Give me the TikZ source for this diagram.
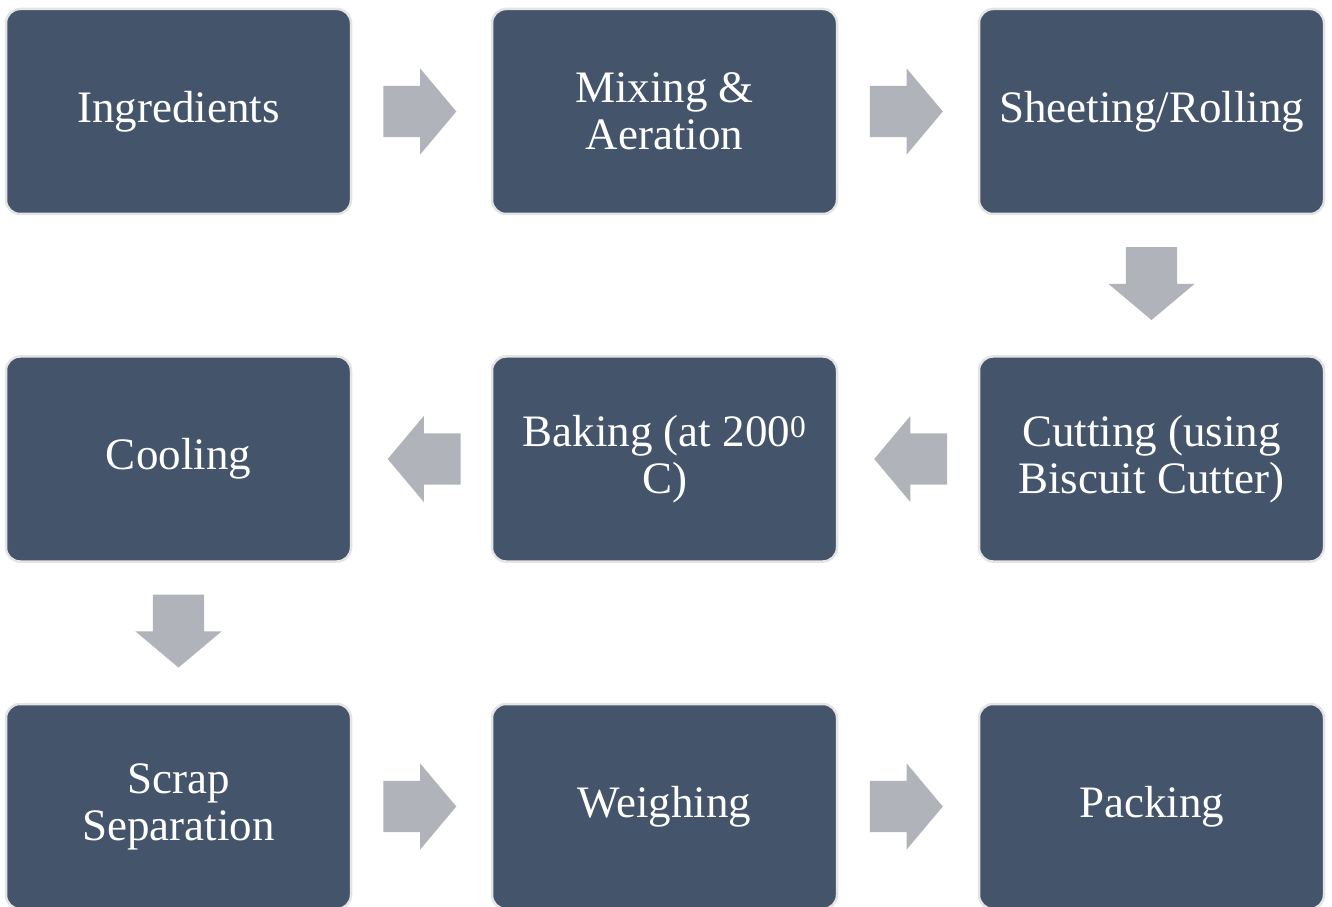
\documentclass[tikz,border=0pt]{standalone}
\usepackage{fontspec}
\setmainfont{Liberation Serif}
\usepackage{tikz}
\usetikzlibrary{
    shapes.arrows,
    calc,
    positioning
}
\definecolor{stepblue}{HTML}{44546A}
\definecolor{steprim}{HTML}{E4E4E4}
\definecolor{flowgray}{HTML}{B0B3BA}

\begin{document}
\begin{tikzpicture}[x=1pt, y=1pt,
    stepbox/.style={
        rectangle, rounded corners=14pt, fill=stepblue, draw=steprim,
        line width=2.5pt, minimum width=345pt, minimum height=205pt,
        inner sep=0pt, text=white, align=center,
        font=\fontsize{45}{47}\selectfont
    },
    flowarrow/.style={
        single arrow, fill=flowgray, draw=none,
        inner xsep=0pt, inner ysep=25.5pt,
        minimum height=73pt, minimum width=86pt,
        single arrow head extend=17.5pt, single arrow tip angle=100
    }
]
    \clip (0, 0) rectangle (1332, 906);
    % first row
    \node[stepbox] (ing) at (178.5, 794.5) {Ingredients};
    \node[stepbox] (mix) at (664.5, 794.5) {Mixing \&\\Aeration};
    \node[stepbox] (sheet) at (1151.5, 794.5) {Sheeting/Rolling};
    % second row
    \node[stepbox] (cool) at (178.5, 447) {Cooling};
    \node[stepbox] (bake) at (664.5, 447) {Baking (at 200\textsuperscript{0}\\C)};
    \node[stepbox] (cut) at (1151.5, 447) {Cutting (using\\Biscuit Cutter)};
    % third row
    \node[stepbox] (scrap) at (178.5, 99.5) {Scrap\\Separation};
    \node[stepbox] (weigh) at (664.5, 99.5) {Weighing};
    \node[stepbox] (pack) at (1151.5, 99.5) {Packing};
    % arrows between the steps (shift is along the arrow)
    \node[flowarrow] (a1) at ($(ing.east)!0.5!(mix.west)$) [xshift=-12.5pt] {};
    \node[flowarrow] (a2) at ($(mix.east)!0.5!(sheet.west)$) [xshift=-12.5pt] {};
    \node[flowarrow, rotate=-90] (a3) at ($(sheet.south)!0.5!(cut.north)$) [xshift=-12.5pt] {};
    \node[flowarrow, rotate=180] (a4) at ($(cut.west)!0.5!(bake.east)$) [xshift=-13.5pt] {};
    \node[flowarrow, rotate=180] (a5) at ($(bake.west)!0.5!(cool.east)$) [xshift=-13.5pt] {};
    \node[flowarrow, rotate=-90] (a6) at ($(cool.south)!0.5!(scrap.north)$) [xshift=-12.5pt] {};
    \node[flowarrow] (a7) at ($(scrap.east)!0.5!(weigh.west)$) [xshift=-12.5pt] {};
    \node[flowarrow] (a8) at ($(weigh.east)!0.5!(pack.west)$) [xshift=-12.5pt] {};
\end{tikzpicture}
\end{document}
